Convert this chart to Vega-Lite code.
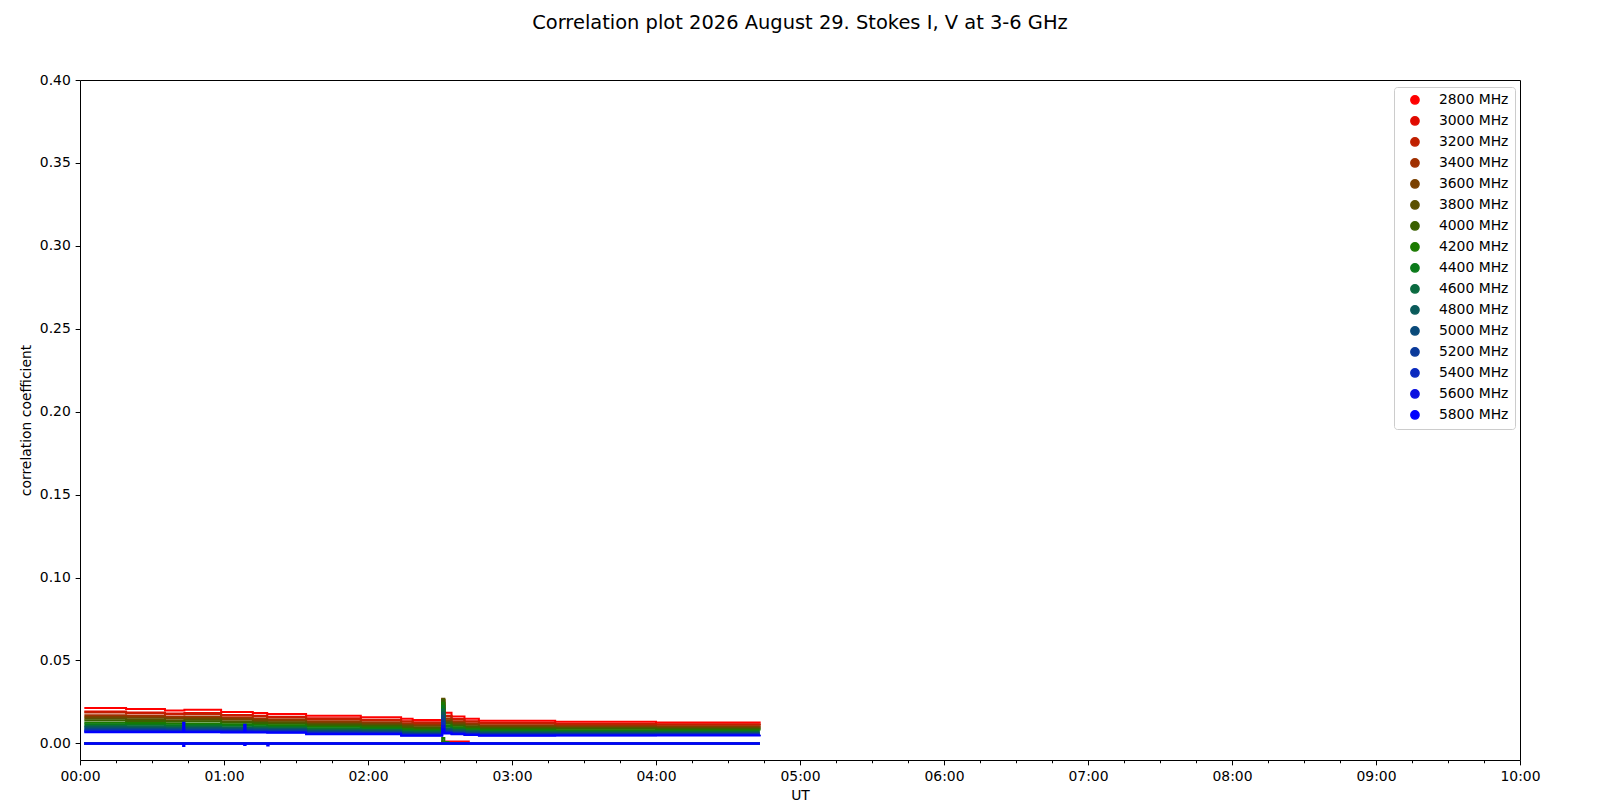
{
  "$schema": "https://vega.github.io/schema/vega-lite/v6.json",
  "autosize": {"type": "none"},
  "padding": {"left": 80, "top": 80, "right": 80, "bottom": 40},
  "width": 1440,
  "height": 680,
  "background": "white",
  "title": {
    "text": "Correlation plot 2026 August 29. Stokes I, V at 3-6 GHz",
    "font": "DejaVu Sans",
    "fontSize": 19.44,
    "fontWeight": "normal",
    "color": "black",
    "anchor": "middle",
    "frame": "group",
    "baseline": "alphabetic",
    "offset": 25
  },
  "data": {
    "values": [
      {"t": 0.03, "f": 2800, "s": "I", "c": 0.0213},
      {"t": 0.32, "f": 2800, "s": "I", "c": 0.0207},
      {"t": 0.59, "f": 2800, "s": "I", "c": 0.0199},
      {"t": 0.725, "f": 2800, "s": "I", "c": 0.0203},
      {"t": 0.98, "f": 2800, "s": "I", "c": 0.0190},
      {"t": 1.2, "f": 2800, "s": "I", "c": 0.0184},
      {"t": 1.3, "f": 2800, "s": "I", "c": 0.0177},
      {"t": 1.57, "f": 2800, "s": "I", "c": 0.0167},
      {"t": 1.95, "f": 2800, "s": "I", "c": 0.0158},
      {"t": 2.23, "f": 2800, "s": "I", "c": 0.0149},
      {"t": 2.31, "f": 2800, "s": "I", "c": 0.0141},
      {"t": 2.515, "f": 2800, "s": "I", "c": 0.0215},
      {"t": 2.53, "f": 2800, "s": "I", "c": 0.0185},
      {"t": 2.58, "f": 2800, "s": "I", "c": 0.0162},
      {"t": 2.67, "f": 2800, "s": "I", "c": 0.0148},
      {"t": 2.77, "f": 2800, "s": "I", "c": 0.0137},
      {"t": 3.3, "f": 2800, "s": "I", "c": 0.0131},
      {"t": 4.0, "f": 2800, "s": "I", "c": 0.0126},
      {"t": 4.72, "f": 2800, "s": "I", "c": 0.0122},

      {"t": 0.03, "f": 3000, "s": "I", "c": 0.0192},
      {"t": 0.32, "f": 3000, "s": "I", "c": 0.0187},
      {"t": 0.59, "f": 3000, "s": "I", "c": 0.0180},
      {"t": 0.725, "f": 3000, "s": "I", "c": 0.0183},
      {"t": 0.98, "f": 3000, "s": "I", "c": 0.0172},
      {"t": 1.2, "f": 3000, "s": "I", "c": 0.0167},
      {"t": 1.3, "f": 3000, "s": "I", "c": 0.0161},
      {"t": 1.57, "f": 3000, "s": "I", "c": 0.0151},
      {"t": 1.95, "f": 3000, "s": "I", "c": 0.0143},
      {"t": 2.23, "f": 3000, "s": "I", "c": 0.0134},
      {"t": 2.31, "f": 3000, "s": "I", "c": 0.0127},
      {"t": 2.515, "f": 3000, "s": "I", "c": 0.0235},
      {"t": 2.53, "f": 3000, "s": "I", "c": 0.0167},
      {"t": 2.58, "f": 3000, "s": "I", "c": 0.0147},
      {"t": 2.67, "f": 3000, "s": "I", "c": 0.0134},
      {"t": 2.77, "f": 3000, "s": "I", "c": 0.0124},
      {"t": 3.3, "f": 3000, "s": "I", "c": 0.0119},
      {"t": 4.0, "f": 3000, "s": "I", "c": 0.0115},
      {"t": 4.72, "f": 3000, "s": "I", "c": 0.0111},

      {"t": 0.03, "f": 3200, "s": "I", "c": 0.0186},
      {"t": 0.32, "f": 3200, "s": "I", "c": 0.0181},
      {"t": 0.59, "f": 3200, "s": "I", "c": 0.0174},
      {"t": 0.725, "f": 3200, "s": "I", "c": 0.0178},
      {"t": 0.98, "f": 3200, "s": "I", "c": 0.0167},
      {"t": 1.2, "f": 3200, "s": "I", "c": 0.0162},
      {"t": 1.3, "f": 3200, "s": "I", "c": 0.0156},
      {"t": 1.57, "f": 3200, "s": "I", "c": 0.0146},
      {"t": 1.95, "f": 3200, "s": "I", "c": 0.0139},
      {"t": 2.23, "f": 3200, "s": "I", "c": 0.0130},
      {"t": 2.31, "f": 3200, "s": "I", "c": 0.0123},
      {"t": 2.515, "f": 3200, "s": "I", "c": 0.0245},
      {"t": 2.53, "f": 3200, "s": "I", "c": 0.0162},
      {"t": 2.58, "f": 3200, "s": "I", "c": 0.0142},
      {"t": 2.67, "f": 3200, "s": "I", "c": 0.0130},
      {"t": 2.77, "f": 3200, "s": "I", "c": 0.0120},
      {"t": 3.3, "f": 3200, "s": "I", "c": 0.0115},
      {"t": 4.0, "f": 3200, "s": "I", "c": 0.0112},
      {"t": 4.72, "f": 3200, "s": "I", "c": 0.0108},

      {"t": 0.03, "f": 3400, "s": "I", "c": 0.0170},
      {"t": 0.32, "f": 3400, "s": "I", "c": 0.0166},
      {"t": 0.59, "f": 3400, "s": "I", "c": 0.0160},
      {"t": 0.725, "f": 3400, "s": "I", "c": 0.0163},
      {"t": 0.98, "f": 3400, "s": "I", "c": 0.0153},
      {"t": 1.2, "f": 3400, "s": "I", "c": 0.0149},
      {"t": 1.3, "f": 3400, "s": "I", "c": 0.0144},
      {"t": 1.57, "f": 3400, "s": "I", "c": 0.0134},
      {"t": 1.95, "f": 3400, "s": "I", "c": 0.0127},
      {"t": 2.23, "f": 3400, "s": "I", "c": 0.0118},
      {"t": 2.31, "f": 3400, "s": "I", "c": 0.0113},
      {"t": 2.515, "f": 3400, "s": "I", "c": 0.0260},
      {"t": 2.53, "f": 3400, "s": "I", "c": 0.0148},
      {"t": 2.58, "f": 3400, "s": "I", "c": 0.0130},
      {"t": 2.67, "f": 3400, "s": "I", "c": 0.0119},
      {"t": 2.77, "f": 3400, "s": "I", "c": 0.0110},
      {"t": 3.3, "f": 3400, "s": "I", "c": 0.0106},
      {"t": 4.0, "f": 3400, "s": "I", "c": 0.0103},
      {"t": 4.72, "f": 3400, "s": "I", "c": 0.0100},

      {"t": 0.03, "f": 3600, "s": "I", "c": 0.0160},
      {"t": 0.32, "f": 3600, "s": "I", "c": 0.0156},
      {"t": 0.59, "f": 3600, "s": "I", "c": 0.0151},
      {"t": 0.725, "f": 3600, "s": "I", "c": 0.0153},
      {"t": 0.98, "f": 3600, "s": "I", "c": 0.0145},
      {"t": 1.2, "f": 3600, "s": "I", "c": 0.0141},
      {"t": 1.3, "f": 3600, "s": "I", "c": 0.0136},
      {"t": 1.57, "f": 3600, "s": "I", "c": 0.0126},
      {"t": 1.95, "f": 3600, "s": "I", "c": 0.0120},
      {"t": 2.23, "f": 3600, "s": "I", "c": 0.0111},
      {"t": 2.31, "f": 3600, "s": "I", "c": 0.0106},
      {"t": 2.515, "f": 3600, "s": "I", "c": 0.0265},
      {"t": 2.53, "f": 3600, "s": "I", "c": 0.0139},
      {"t": 2.58, "f": 3600, "s": "I", "c": 0.0123},
      {"t": 2.67, "f": 3600, "s": "I", "c": 0.0112},
      {"t": 2.77, "f": 3600, "s": "I", "c": 0.0104},
      {"t": 3.3, "f": 3600, "s": "I", "c": 0.0100},
      {"t": 4.0, "f": 3600, "s": "I", "c": 0.0098},
      {"t": 4.72, "f": 3600, "s": "I", "c": 0.0095},

      {"t": 0.03, "f": 3800, "s": "I", "c": 0.0148},
      {"t": 0.32, "f": 3800, "s": "I", "c": 0.0145},
      {"t": 0.59, "f": 3800, "s": "I", "c": 0.0140},
      {"t": 0.725, "f": 3800, "s": "I", "c": 0.0142},
      {"t": 0.98, "f": 3800, "s": "I", "c": 0.0134},
      {"t": 1.2, "f": 3800, "s": "I", "c": 0.0131},
      {"t": 1.3, "f": 3800, "s": "I", "c": 0.0127},
      {"t": 1.57, "f": 3800, "s": "I", "c": 0.0117},
      {"t": 1.95, "f": 3800, "s": "I", "c": 0.0112},
      {"t": 2.23, "f": 3800, "s": "I", "c": 0.0103},
      {"t": 2.31, "f": 3800, "s": "I", "c": 0.0098},
      {"t": 2.515, "f": 3800, "s": "I", "c": 0.0270},
      {"t": 2.53, "f": 3800, "s": "I", "c": 0.0129},
      {"t": 2.58, "f": 3800, "s": "I", "c": 0.0114},
      {"t": 2.67, "f": 3800, "s": "I", "c": 0.0104},
      {"t": 2.77, "f": 3800, "s": "I", "c": 0.0096},
      {"t": 3.3, "f": 3800, "s": "I", "c": 0.0093},
      {"t": 4.0, "f": 3800, "s": "I", "c": 0.0091},
      {"t": 4.72, "f": 3800, "s": "I", "c": 0.0089},

      {"t": 0.03, "f": 4000, "s": "I", "c": 0.0138},
      {"t": 0.32, "f": 4000, "s": "I", "c": 0.0135},
      {"t": 0.59, "f": 4000, "s": "I", "c": 0.0131},
      {"t": 0.725, "f": 4000, "s": "I", "c": 0.0133},
      {"t": 0.98, "f": 4000, "s": "I", "c": 0.0126},
      {"t": 1.2, "f": 4000, "s": "I", "c": 0.0123},
      {"t": 1.3, "f": 4000, "s": "I", "c": 0.0119},
      {"t": 1.57, "f": 4000, "s": "I", "c": 0.0110},
      {"t": 1.95, "f": 4000, "s": "I", "c": 0.0105},
      {"t": 2.23, "f": 4000, "s": "I", "c": 0.0096},
      {"t": 2.31, "f": 4000, "s": "I", "c": 0.0092},
      {"t": 2.515, "f": 4000, "s": "I", "c": 0.0262},
      {"t": 2.53, "f": 4000, "s": "I", "c": 0.0120},
      {"t": 2.58, "f": 4000, "s": "I", "c": 0.0107},
      {"t": 2.67, "f": 4000, "s": "I", "c": 0.0097},
      {"t": 2.77, "f": 4000, "s": "I", "c": 0.0090},
      {"t": 3.3, "f": 4000, "s": "I", "c": 0.0088},
      {"t": 4.0, "f": 4000, "s": "I", "c": 0.0086},
      {"t": 4.72, "f": 4000, "s": "I", "c": 0.0084},

      {"t": 0.03, "f": 4200, "s": "I", "c": 0.0125},
      {"t": 0.32, "f": 4200, "s": "I", "c": 0.0123},
      {"t": 0.59, "f": 4200, "s": "I", "c": 0.0119},
      {"t": 0.725, "f": 4200, "s": "I", "c": 0.0120},
      {"t": 0.98, "f": 4200, "s": "I", "c": 0.0115},
      {"t": 1.2, "f": 4200, "s": "I", "c": 0.0112},
      {"t": 1.3, "f": 4200, "s": "I", "c": 0.0109},
      {"t": 1.57, "f": 4200, "s": "I", "c": 0.0100},
      {"t": 1.95, "f": 4200, "s": "I", "c": 0.0096},
      {"t": 2.23, "f": 4200, "s": "I", "c": 0.0087},
      {"t": 2.31, "f": 4200, "s": "I", "c": 0.0083},
      {"t": 2.515, "f": 4200, "s": "I", "c": 0.0245},
      {"t": 2.53, "f": 4200, "s": "I", "c": 0.0109},
      {"t": 2.58, "f": 4200, "s": "I", "c": 0.0097},
      {"t": 2.67, "f": 4200, "s": "I", "c": 0.0089},
      {"t": 2.77, "f": 4200, "s": "I", "c": 0.0082},
      {"t": 3.3, "f": 4200, "s": "I", "c": 0.0080},
      {"t": 4.0, "f": 4200, "s": "I", "c": 0.0079},
      {"t": 4.72, "f": 4200, "s": "I", "c": 0.0078},

      {"t": 0.03, "f": 4400, "s": "I", "c": 0.0115},
      {"t": 0.32, "f": 4400, "s": "I", "c": 0.0113},
      {"t": 0.59, "f": 4400, "s": "I", "c": 0.0110},
      {"t": 0.725, "f": 4400, "s": "I", "c": 0.0111},
      {"t": 0.98, "f": 4400, "s": "I", "c": 0.0106},
      {"t": 1.2, "f": 4400, "s": "I", "c": 0.0104},
      {"t": 1.3, "f": 4400, "s": "I", "c": 0.0101},
      {"t": 1.57, "f": 4400, "s": "I", "c": 0.0092},
      {"t": 1.95, "f": 4400, "s": "I", "c": 0.0088},
      {"t": 2.23, "f": 4400, "s": "I", "c": 0.0079},
      {"t": 2.31, "f": 4400, "s": "I", "c": 0.0077},
      {"t": 2.515, "f": 4400, "s": "I", "c": 0.0225},
      {"t": 2.53, "f": 4400, "s": "I", "c": 0.0101},
      {"t": 2.58, "f": 4400, "s": "I", "c": 0.0090},
      {"t": 2.67, "f": 4400, "s": "I", "c": 0.0082},
      {"t": 2.77, "f": 4400, "s": "I", "c": 0.0076},
      {"t": 3.3, "f": 4400, "s": "I", "c": 0.0074},
      {"t": 4.0, "f": 4400, "s": "I", "c": 0.0073},
      {"t": 4.72, "f": 4400, "s": "I", "c": 0.0073},

      {"t": 0.03, "f": 4600, "s": "I", "c": 0.0105},
      {"t": 0.32, "f": 4600, "s": "I", "c": 0.0103},
      {"t": 0.59, "f": 4600, "s": "I", "c": 0.0101},
      {"t": 0.725, "f": 4600, "s": "I", "c": 0.0102},
      {"t": 0.98, "f": 4600, "s": "I", "c": 0.0098},
      {"t": 1.2, "f": 4600, "s": "I", "c": 0.0096},
      {"t": 1.3, "f": 4600, "s": "I", "c": 0.0094},
      {"t": 1.57, "f": 4600, "s": "I", "c": 0.0084},
      {"t": 1.95, "f": 4600, "s": "I", "c": 0.0081},
      {"t": 2.23, "f": 4600, "s": "I", "c": 0.0072},
      {"t": 2.31, "f": 4600, "s": "I", "c": 0.0070},
      {"t": 2.515, "f": 4600, "s": "I", "c": 0.0205},
      {"t": 2.53, "f": 4600, "s": "I", "c": 0.0092},
      {"t": 2.58, "f": 4600, "s": "I", "c": 0.0082},
      {"t": 2.67, "f": 4600, "s": "I", "c": 0.0075},
      {"t": 2.77, "f": 4600, "s": "I", "c": 0.0069},
      {"t": 3.3, "f": 4600, "s": "I", "c": 0.0068},
      {"t": 4.0, "f": 4600, "s": "I", "c": 0.0068},
      {"t": 4.72, "f": 4600, "s": "I", "c": 0.0068},

      {"t": 0.03, "f": 4800, "s": "I", "c": 0.0097},
      {"t": 0.32, "f": 4800, "s": "I", "c": 0.0096},
      {"t": 0.59, "f": 4800, "s": "I", "c": 0.0093},
      {"t": 0.725, "f": 4800, "s": "I", "c": 0.0094},
      {"t": 0.98, "f": 4800, "s": "I", "c": 0.0091},
      {"t": 1.2, "f": 4800, "s": "I", "c": 0.0090},
      {"t": 1.3, "f": 4800, "s": "I", "c": 0.0087},
      {"t": 1.57, "f": 4800, "s": "I", "c": 0.0078},
      {"t": 1.95, "f": 4800, "s": "I", "c": 0.0076},
      {"t": 2.23, "f": 4800, "s": "I", "c": 0.0067},
      {"t": 2.31, "f": 4800, "s": "I", "c": 0.0065},
      {"t": 2.515, "f": 4800, "s": "I", "c": 0.0185},
      {"t": 2.53, "f": 4800, "s": "I", "c": 0.0085},
      {"t": 2.58, "f": 4800, "s": "I", "c": 0.0076},
      {"t": 2.67, "f": 4800, "s": "I", "c": 0.0070},
      {"t": 2.77, "f": 4800, "s": "I", "c": 0.0064},
      {"t": 3.3, "f": 4800, "s": "I", "c": 0.0064},
      {"t": 4.0, "f": 4800, "s": "I", "c": 0.0064},
      {"t": 4.72, "f": 4800, "s": "I", "c": 0.0064},

      {"t": 0.03, "f": 5000, "s": "I", "c": 0.0090},
      {"t": 0.32, "f": 5000, "s": "I", "c": 0.0089},
      {"t": 0.59, "f": 5000, "s": "I", "c": 0.0087},
      {"t": 0.725, "f": 5000, "s": "I", "c": 0.0088},
      {"t": 0.98, "f": 5000, "s": "I", "c": 0.0085},
      {"t": 1.2, "f": 5000, "s": "I", "c": 0.0084},
      {"t": 1.3, "f": 5000, "s": "I", "c": 0.0082},
      {"t": 1.57, "f": 5000, "s": "I", "c": 0.0073},
      {"t": 1.95, "f": 5000, "s": "I", "c": 0.0071},
      {"t": 2.23, "f": 5000, "s": "I", "c": 0.0062},
      {"t": 2.31, "f": 5000, "s": "I", "c": 0.0060},
      {"t": 2.515, "f": 5000, "s": "I", "c": 0.0165},
      {"t": 2.53, "f": 5000, "s": "I", "c": 0.0079},
      {"t": 2.58, "f": 5000, "s": "I", "c": 0.0071},
      {"t": 2.67, "f": 5000, "s": "I", "c": 0.0065},
      {"t": 2.77, "f": 5000, "s": "I", "c": 0.0060},
      {"t": 3.3, "f": 5000, "s": "I", "c": 0.0060},
      {"t": 4.0, "f": 5000, "s": "I", "c": 0.0060},
      {"t": 4.72, "f": 5000, "s": "I", "c": 0.0060},

      {"t": 0.03, "f": 5200, "s": "I", "c": 0.0083},
      {"t": 0.32, "f": 5200, "s": "I", "c": 0.0082},
      {"t": 0.59, "f": 5200, "s": "I", "c": 0.0081},
      {"t": 0.725, "f": 5200, "s": "I", "c": 0.0081},
      {"t": 0.98, "f": 5200, "s": "I", "c": 0.0079},
      {"t": 1.2, "f": 5200, "s": "I", "c": 0.0078},
      {"t": 1.3, "f": 5200, "s": "I", "c": 0.0077},
      {"t": 1.57, "f": 5200, "s": "I", "c": 0.0067},
      {"t": 1.95, "f": 5200, "s": "I", "c": 0.0066},
      {"t": 2.23, "f": 5200, "s": "I", "c": 0.0057},
      {"t": 2.31, "f": 5200, "s": "I", "c": 0.0056},
      {"t": 2.515, "f": 5200, "s": "I", "c": 0.0145},
      {"t": 2.53, "f": 5200, "s": "I", "c": 0.0073},
      {"t": 2.58, "f": 5200, "s": "I", "c": 0.0066},
      {"t": 2.67, "f": 5200, "s": "I", "c": 0.0060},
      {"t": 2.77, "f": 5200, "s": "I", "c": 0.0055},
      {"t": 3.3, "f": 5200, "s": "I", "c": 0.0056},
      {"t": 4.0, "f": 5200, "s": "I", "c": 0.0056},
      {"t": 4.72, "f": 5200, "s": "I", "c": 0.0056},

      {"t": 0.03, "f": 5400, "s": "I", "c": 0.0077},
      {"t": 0.32, "f": 5400, "s": "I", "c": 0.0077},
      {"t": 0.59, "f": 5400, "s": "I", "c": 0.0075},
      {"t": 0.725, "f": 5400, "s": "I", "c": 0.0075},
      {"t": 0.98, "f": 5400, "s": "I", "c": 0.0074},
      {"t": 1.2, "f": 5400, "s": "I", "c": 0.0073},
      {"t": 1.3, "f": 5400, "s": "I", "c": 0.0072},
      {"t": 1.57, "f": 5400, "s": "I", "c": 0.0063},
      {"t": 1.95, "f": 5400, "s": "I", "c": 0.0061},
      {"t": 2.23, "f": 5400, "s": "I", "c": 0.0052},
      {"t": 2.31, "f": 5400, "s": "I", "c": 0.0052},
      {"t": 2.515, "f": 5400, "s": "I", "c": 0.0125},
      {"t": 2.53, "f": 5400, "s": "I", "c": 0.0068},
      {"t": 2.58, "f": 5400, "s": "I", "c": 0.0062},
      {"t": 2.67, "f": 5400, "s": "I", "c": 0.0056},
      {"t": 2.77, "f": 5400, "s": "I", "c": 0.0052},
      {"t": 3.3, "f": 5400, "s": "I", "c": 0.0052},
      {"t": 4.0, "f": 5400, "s": "I", "c": 0.0053},
      {"t": 4.72, "f": 5400, "s": "I", "c": 0.0054},

      {"t": 0.03, "f": 5600, "s": "I", "c": 0.0072},
      {"t": 0.32, "f": 5600, "s": "I", "c": 0.0072},
      {"t": 0.59, "f": 5600, "s": "I", "c": 0.0071},
      {"t": 0.725, "f": 5600, "s": "I", "c": 0.0071},
      {"t": 0.98, "f": 5600, "s": "I", "c": 0.0070},
      {"t": 1.2, "f": 5600, "s": "I", "c": 0.0069},
      {"t": 1.3, "f": 5600, "s": "I", "c": 0.0068},
      {"t": 1.57, "f": 5600, "s": "I", "c": 0.0059},
      {"t": 1.95, "f": 5600, "s": "I", "c": 0.0058},
      {"t": 2.23, "f": 5600, "s": "I", "c": 0.0049},
      {"t": 2.31, "f": 5600, "s": "I", "c": 0.0049},
      {"t": 2.515, "f": 5600, "s": "I", "c": 0.0105},
      {"t": 2.53, "f": 5600, "s": "I", "c": 0.0064},
      {"t": 2.58, "f": 5600, "s": "I", "c": 0.0058},
      {"t": 2.67, "f": 5600, "s": "I", "c": 0.0053},
      {"t": 2.77, "f": 5600, "s": "I", "c": 0.0049},
      {"t": 3.3, "f": 5600, "s": "I", "c": 0.0049},
      {"t": 4.0, "f": 5600, "s": "I", "c": 0.0050},
      {"t": 4.72, "f": 5600, "s": "I", "c": 0.0051},

      {"t": 0.03, "f": 5800, "s": "I", "c": 0.0068},
      {"t": 0.32, "f": 5800, "s": "I", "c": 0.0068},
      {"t": 0.59, "f": 5800, "s": "I", "c": 0.0067},
      {"t": 0.716, "f": 5800, "s": "I", "c": 0.0125},
      {"t": 0.725, "f": 5800, "s": "I", "c": 0.0067},
      {"t": 0.98, "f": 5800, "s": "I", "c": 0.0066},
      {"t": 1.14, "f": 5800, "s": "I", "c": 0.0112},
      {"t": 1.15, "f": 5800, "s": "I", "c": 0.0066},
      {"t": 1.2, "f": 5800, "s": "I", "c": 0.0066},
      {"t": 1.3, "f": 5800, "s": "I", "c": 0.0065},
      {"t": 1.57, "f": 5800, "s": "I", "c": 0.0056},
      {"t": 1.95, "f": 5800, "s": "I", "c": 0.0055},
      {"t": 2.23, "f": 5800, "s": "I", "c": 0.0046},
      {"t": 2.31, "f": 5800, "s": "I", "c": 0.0046},
      {"t": 2.515, "f": 5800, "s": "I", "c": 0.0085},
      {"t": 2.53, "f": 5800, "s": "I", "c": 0.0060},
      {"t": 2.58, "f": 5800, "s": "I", "c": 0.0055},
      {"t": 2.67, "f": 5800, "s": "I", "c": 0.0050},
      {"t": 2.77, "f": 5800, "s": "I", "c": 0.0046},
      {"t": 3.3, "f": 5800, "s": "I", "c": 0.0047},
      {"t": 4.0, "f": 5800, "s": "I", "c": 0.0048},
      {"t": 4.72, "f": 5800, "s": "I", "c": 0.0049},

      {"t": 0.03, "f": 2800, "s": "V", "c": 0.0},
      {"t": 0.35, "f": 2800, "s": "V", "c": -0.0004},
      {"t": 1.5, "f": 2800, "s": "V", "c": 0.0},
      {"t": 2.515, "f": 2800, "s": "V", "c": 0.0012},
      {"t": 2.7, "f": 2800, "s": "V", "c": 0.0},
      {"t": 4.72, "f": 2800, "s": "V", "c": 0.0},
      {"t": 0.03, "f": 3000, "s": "V", "c": 0.0},
      {"t": 4.72, "f": 3000, "s": "V", "c": 0.0},
      {"t": 0.03, "f": 3200, "s": "V", "c": 0.0},
      {"t": 4.72, "f": 3200, "s": "V", "c": 0.0},
      {"t": 0.03, "f": 3400, "s": "V", "c": 0.0},
      {"t": 4.72, "f": 3400, "s": "V", "c": 0.0},
      {"t": 0.03, "f": 3600, "s": "V", "c": 0.0},
      {"t": 4.72, "f": 3600, "s": "V", "c": 0.0},
      {"t": 0.03, "f": 3800, "s": "V", "c": 0.0},
      {"t": 4.72, "f": 3800, "s": "V", "c": 0.0},
      {"t": 0.03, "f": 4000, "s": "V", "c": 0.0},
      {"t": 4.72, "f": 4000, "s": "V", "c": 0.0},
      {"t": 0.03, "f": 4200, "s": "V", "c": 0.0},
      {"t": 1.8, "f": 4200, "s": "V", "c": -0.0003},
      {"t": 2.515, "f": 4200, "s": "V", "c": 0.0032},
      {"t": 2.53, "f": 4200, "s": "V", "c": 0.0008},
      {"t": 2.56, "f": 4200, "s": "V", "c": 0.0},
      {"t": 4.72, "f": 4200, "s": "V", "c": 0.0},
      {"t": 0.03, "f": 4400, "s": "V", "c": 0.0},
      {"t": 4.72, "f": 4400, "s": "V", "c": 0.0},
      {"t": 0.03, "f": 4600, "s": "V", "c": 0.0},
      {"t": 4.72, "f": 4600, "s": "V", "c": 0.0},
      {"t": 0.03, "f": 4800, "s": "V", "c": 0.0},
      {"t": 4.72, "f": 4800, "s": "V", "c": 0.0},
      {"t": 0.03, "f": 5000, "s": "V", "c": 0.0},
      {"t": 4.72, "f": 5000, "s": "V", "c": 0.0},
      {"t": 0.03, "f": 5200, "s": "V", "c": 0.0},
      {"t": 4.72, "f": 5200, "s": "V", "c": 0.0},
      {"t": 0.03, "f": 5400, "s": "V", "c": 0.0},
      {"t": 4.72, "f": 5400, "s": "V", "c": 0.0},
      {"t": 0.03, "f": 5600, "s": "V", "c": 0.0},
      {"t": 4.72, "f": 5600, "s": "V", "c": 0.0},
      {"t": 0.03, "f": 5800, "s": "V", "c": 0.0},
      {"t": 0.716, "f": 5800, "s": "V", "c": -0.0015},
      {"t": 0.725, "f": 5800, "s": "V", "c": 0.0},
      {"t": 1.14, "f": 5800, "s": "V", "c": -0.001},
      {"t": 1.15, "f": 5800, "s": "V", "c": 0.0},
      {"t": 1.3, "f": 5800, "s": "V", "c": -0.0012},
      {"t": 1.31, "f": 5800, "s": "V", "c": 0.0},
      {"t": 2.515, "f": 5800, "s": "V", "c": 0.0},
      {"t": 4.72, "f": 5800, "s": "V", "c": 0.0}
    ]
  },
  "layer": [
    {
      "transform": [{"filter": "datum.s == 'I'"}],
      "mark": {"type": "line", "interpolate": "step-after", "strokeWidth": 2, "clip": true},
      "encoding": {
        "x": {
          "field": "t",
          "type": "quantitative",
          "scale": {"domain": [0, 10], "nice": false, "zero": false},
          "axis": {
            "title": "UT",
            "values": [0, 1, 2, 3, 4, 5, 6, 7, 8, 9, 10],
            "labelExpr": "(datum.value < 10 ? '0' : '') + datum.value + ':00'",
            "tickSize": 4.86,
            "labelPadding": 4.86,
            "titlePadding": 5,
            "labelFlush": false,
            "labelOverlap": false
          }
        },
        "y": {
          "field": "c",
          "type": "quantitative",
          "scale": {"domain": [-0.01, 0.4], "nice": false, "zero": false},
          "axis": {
            "title": "correlation coefficient",
            "values": [0, 0.05, 0.1, 0.15, 0.2, 0.25, 0.3, 0.35, 0.4],
            "format": ".2f",
            "tickSize": 4.86,
            "labelPadding": 4.86,
            "titlePadding": 6,
            "labelFlush": false,
            "labelOverlap": false
          }
        },
        "color": {
          "field": "f",
          "type": "nominal",
          "scale": {
            "domain": [2800, 3000, 3200, 3400, 3600, 3800, 4000, 4200, 4400, 4600, 4800, 5000, 5200, 5400, 5600, 5800],
            "range": ["#ff0000", "#e00a00", "#c02000", "#a03000", "#7a4000", "#5a5000", "#3a6000", "#1a7a00", "#0a7a1a", "#0a6a40", "#0a5a5a", "#0a4a7a", "#0a3a9a", "#0a2abf", "#0a10e0", "#0000ff"]
          },
          "legend": {
            "title": null,
            "orient": "none",
            "legendX": 1314,
            "legendY": 7,
            "labelExpr": "datum.label + ' MHz'",
            "labelFont": "DejaVu Sans",
            "labelFontSize": 13.9,
            "labelColor": "black",
            "labelOffset": 17,
            "labelLimit": 200,
            "symbolOffset": 8,
            "rowPadding": 5,
            "padding": 6,
            "strokeColor": "#cccccc",
            "fillColor": "rgba(255,255,255,0.8)",
            "cornerRadius": 3,
            "symbolLimit": 50,
            "encode": {
              "symbols": {
                "update": {
                  "fill": {"scale": "color", "field": "value"},
                  "stroke": {"value": "transparent"},
                  "shape": {"value": "circle"},
                  "size": {"value": 68},
                  "opacity": {"value": 1}
                }
              }
            }
          }
        }
      }
    },
    {
      "transform": [{"filter": "datum.s == 'V'"}],
      "mark": {"type": "line", "interpolate": "step-after", "strokeWidth": 2, "clip": true},
      "encoding": {
        "x": {
          "field": "t",
          "type": "quantitative",
          "axis": {
            "orient": "bottom",
            "title": null,
            "values": [0.25, 0.5, 0.75, 1.25, 1.5, 1.75, 2.25, 2.5, 2.75, 3.25, 3.5, 3.75, 4.25, 4.5, 4.75, 5.25, 5.5, 5.75, 6.25, 6.5, 6.75, 7.25, 7.5, 7.75, 8.25, 8.5, 8.75, 9.25, 9.5, 9.75],
            "labels": false,
            "tickSize": 2.78
          }
        },
        "y": {"field": "c", "type": "quantitative"},
        "color": {"field": "f", "type": "nominal"}
      }
    }
  ],
  "resolve": {"axis": {"x": "independent"}},
  "config": {
    "font": "DejaVu Sans",
    "view": {"stroke": "black", "strokeWidth": 1},
    "axis": {
      "domain": false,
      "grid": false,
      "ticks": true,
      "tickColor": "black",
      "tickWidth": 1,
      "labelColor": "black",
      "titleColor": "black",
      "labelFont": "DejaVu Sans",
      "titleFont": "DejaVu Sans",
      "labelFontSize": 13.9,
      "titleFontSize": 13.9,
      "titleFontWeight": "normal"
    }
  }
}
